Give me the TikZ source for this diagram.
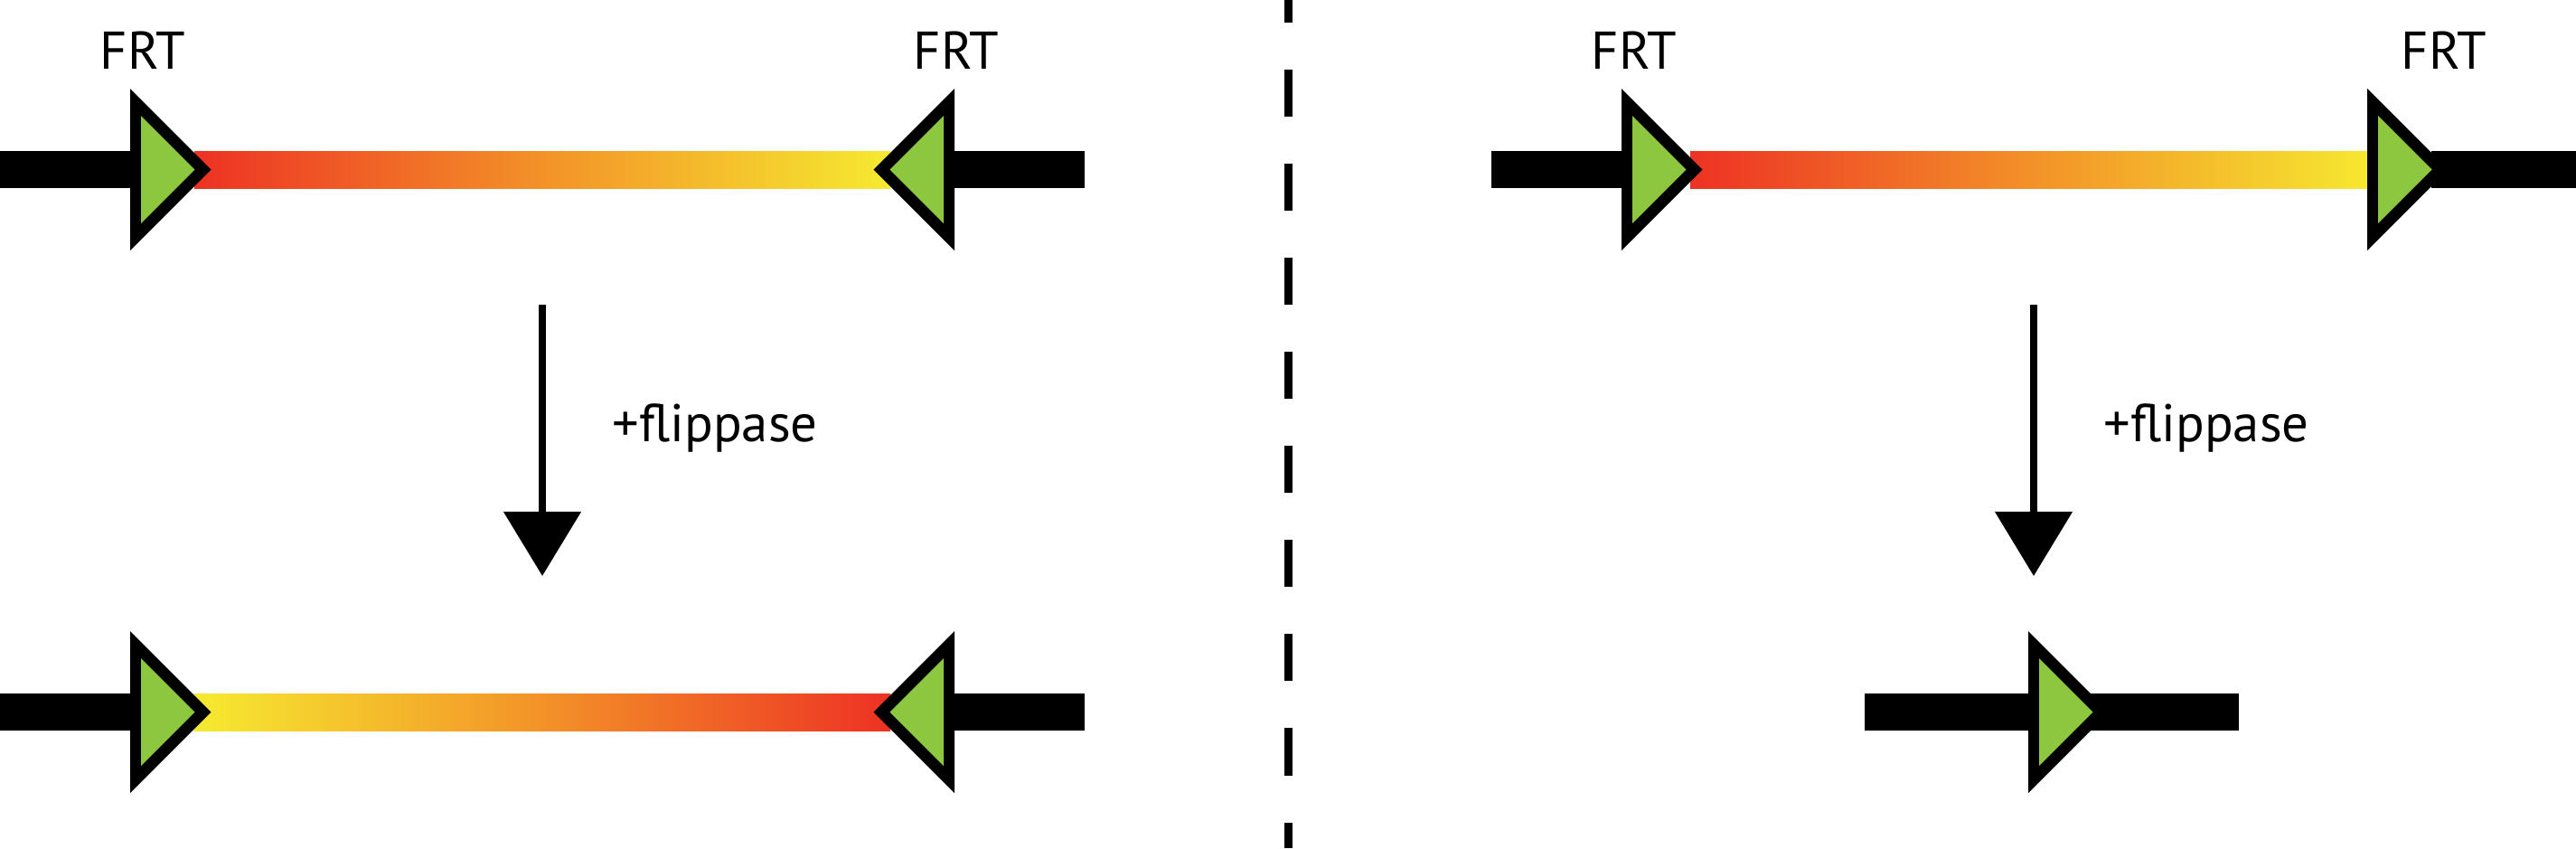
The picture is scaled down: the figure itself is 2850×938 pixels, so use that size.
\documentclass[tikz,border=0pt]{standalone}
\usepackage{fontspec}
\setmainfont{PT Sans}
\usetikzlibrary{arrows.meta}
\definecolor{frtgreen}{RGB}{141,198,63}
\definecolor{genred}{RGB}{237,50,36}
\definecolor{genorange}{RGB}{243,146,40}
\definecolor{genyellow}{RGB}{246,234,48}
\tikzset{
  frt/.pic={
    \fill[black] (0,-89.5) -- (0,89.5) -- (89.5,0) -- cycle;
    \fill[frtgreen] (12,-59.5) -- (12,59.5) -- (71.5,0) -- cycle;
  },
  lbl/.style={inner sep=0pt,font=\fontsize{16.7}{20}\selectfont},
  redyellow/.style={left color=genred,right color=genyellow,middle color=genorange},
  yellowred/.style={left color=genyellow,right color=genred,middle color=genorange}
}
\begin{document}
\begin{tikzpicture}[x=0.01cm,y=-0.01cm,>={Triangle[width=0.84cm,length=0.71cm]}]
\useasboundingbox (0,0) rectangle (2850,938);
% left: inverted FRT sites
\fill (0,167) rectangle (150,208);
\fill (1050,167) rectangle (1200,208);
\shade[redyellow] (215,167) rectangle (985,208);
\pic at (144,187.5) {frt};
\pic[xscale=-1] at (1056,187.5) {frt};
\node[lbl,anchor=base] (frt1) at (158,76) {FRT};
\node[lbl,anchor=base] (frt2) at (1058,76) {FRT};
\coordinate (ltop) at (600,337);
\coordinate (lbot) at (600,637);
\draw[->,line width=0.08cm] (ltop) -- (lbot);
\node[lbl,anchor=base west] (lflp) at (677,488) {+flippase};
\fill (0,767) rectangle (150,808);
\fill (1050,767) rectangle (1200,808);
\shade[yellowred] (215,767) rectangle (985,808);
\pic at (144,787.5) {frt};
\pic[xscale=-1] at (1056,787.5) {frt};
\draw[line width=0.09cm,dash pattern=on 0.52cm off 0.52cm,dash phase=0.27cm] (1425,0) -- (1425,938);
% right: direct FRT sites
\fill (1650,167) rectangle (1800,208);
\fill (2690,167) rectangle (2850,208);
\shade[redyellow] (1870,167) rectangle (2630,208);
\pic at (1794,187.5) {frt};
\pic at (2619,187.5) {frt};
\node[lbl,anchor=base] (frt3) at (1808,76) {FRT};
\node[lbl,anchor=base] (frt4) at (2704,76) {FRT};
\coordinate (rtop) at (2250,337);
\coordinate (rbot) at (2250,637);
\draw[->,line width=0.08cm] (rtop) -- (rbot);
\node[lbl,anchor=base west] (rflp) at (2327,488) {+flippase};
\fill (2063,767) rectangle (2477,808);
\pic at (2244,787.5) {frt};
\end{tikzpicture}
\end{document}
